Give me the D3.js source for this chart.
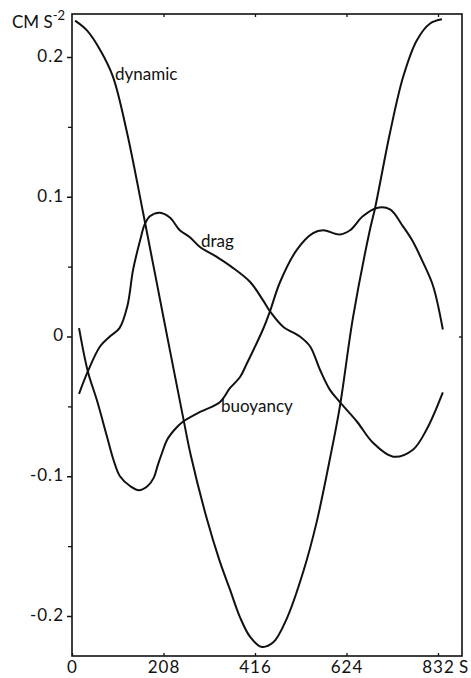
<!DOCTYPE html>
<html><head><meta charset="utf-8">
<script src="https://cdn.jsdelivr.net/npm/d3@7"></script>
<style>body{margin:0;background:#fff}svg{display:block}text{font-family:Lato,"DejaVu Sans",sans-serif;fill:#111}</style>
</head><body><svg id="c" width="471" height="678"></svg>
<script>
const xTicks = [0, 208, 416, 624, 832];
const yTicks = [-0.2, -0.1, 0, 0.1, 0.2];
const yTickLabels = ["-0.2", "-0.1", "0", "0.1", "0.2"];
const yMinorTicks = [-0.15, -0.05, 0.05, 0.15];
const dynamic = [[7,0.226],[34,0.219],[64,0.205],[93,0.186],[125,0.146],[162,0.088],[209,0.012],[252,-0.057],[270,-0.085],[307,-0.131],[335,-0.160],[359,-0.181],[382,-0.201],[405,-0.215],[430,-0.222],[457,-0.219],[488,-0.202],[526,-0.168],[556,-0.133],[586,-0.088],[609,-0.050],[639,0.014],[677,0.076],[689,0.092],[723,0.146],[753,0.186],[784,0.212],[814,0.224],[841,0.227]];
const drag = [[16,-0.041],[36,-0.025],[64,-0.007],[86,0.000],[108,0.006],[126,0.022],[139,0.048],[155,0.069],[165,0.080],[177,0.086],[200,0.0886],[223,0.085],[245,0.076],[268,0.071],[291,0.064],[329,0.057],[362,0.05],[405,0.039],[434,0.026],[450,0.018],[480,0.007],[518,0.0],[541,-0.007],[564,-0.024],[586,-0.038],[609,-0.047],[648,-0.061],[684,-0.076],[730,-0.086],[775,-0.081],[807,-0.066],[843,-0.040]];
const buoyancy = [[16,0.006],[36,-0.025],[57,-0.046],[79,-0.071],[94,-0.088],[109,-0.100],[132,-0.107],[152,-0.110],[172,-0.107],[186,-0.101],[195,-0.092],[205,-0.083],[216,-0.074],[235,-0.066],[252,-0.061],[291,-0.054],[336,-0.047],[359,-0.037],[382,-0.029],[398,-0.019],[434,0.005],[450,0.018],[473,0.039],[511,0.062],[548,0.074],[571,0.076],[609,0.073],[632,0.076],[661,0.086],[693,0.092],[723,0.091],[752,0.079],[773,0.069],[798,0.053],[821,0.036],[843,0.005]];
const seriesLabels = [["dynamic",115,80],["drag",201,247],["buoyancy",221,412]];

const svg = d3.select("#c");
const L = 72, R = 462, T = 14, B = 656;
const x = d3.scaleLinear().domain([0, 832]).range([72, 438]);
const y = d3.scaleLinear().domain([-0.2, 0.2]).range([616, 57]);

svg.append("rect").attr("x", L).attr("y", T).attr("width", R - L).attr("height", B - T)
  .attr("fill", "none").attr("stroke", "#111").attr("stroke-width", 1.6);

const yAxis = d3.axisLeft(y).tickValues(yTicks).tickFormat((d, i) => yTickLabels[i]).tickSize(5).tickPadding(3);
const ga = svg.append("g").attr("transform", `translate(${L},0)`).call(yAxis);
ga.select(".domain").remove();
ga.selectAll("line").attr("stroke", "#111").attr("stroke-width", 1.5);
ga.selectAll("text").attr("font-size", 17).attr("dy", "0.25em").attr("letter-spacing", 1).style("font-family", "Lato,sans-serif");
const gm = svg.append("g").attr("transform", `translate(${L},0)`).call(d3.axisLeft(y).tickValues(yMinorTicks).tickSize(4).tickFormat(""));
gm.select(".domain").remove();
gm.selectAll("line").attr("stroke", "#111").attr("stroke-width", 1.3);

svg.append("g").attr("transform", `translate(${R},0)`).call(d3.axisLeft(y).tickValues([0]).tickSize(3).tickFormat(""))
  .call(g => { g.select(".domain").remove(); g.selectAll("line").attr("stroke", "#111").attr("stroke-width", 1.3); });

const gb = svg.append("g").attr("transform", `translate(0,${B})`).call(d3.axisBottom(x).tickValues(xTicks).tickSize(-3).tickPadding(0));
gb.select(".domain").remove();
gb.selectAll("line").attr("stroke", "#111").attr("stroke-width", 1.3);
gb.selectAll("text").attr("font-size", 17).attr("y", 17).attr("dy", 0).attr("letter-spacing", 1).style("font-family", "Lato,sans-serif");
svg.append("g").attr("transform", `translate(0,${T})`).call(d3.axisTop(x).tickValues(xTicks.slice(1)).tickSize(-3).tickFormat(""))
  .call(g => { g.select(".domain").remove(); g.selectAll("line").attr("stroke", "#111").attr("stroke-width", 1.3); });

const u = svg.append("text").attr("x", 12).attr("y", 28).attr("font-size", 17);
u.append("tspan").text("CM S");
u.append("tspan").attr("dy", -8).attr("font-size", 13).text("-2");
svg.append("text").attr("x", 459).attr("y", 673).attr("font-size", 17).text("S");

const line = d3.line().x(d => x(d[0])).y(d => y(d[1])).curve(d3.curveCatmullRom.alpha(0.5));
[dynamic, drag, buoyancy].forEach(s => {
  svg.append("path").datum(s).attr("d", line).attr("fill", "none").attr("stroke", "#111").attr("stroke-width", 2);
});

seriesLabels.forEach(([t, lx, ly]) => svg.append("text").attr("x", lx).attr("y", ly).attr("font-size", 17).text(t));
</script></body></html>
